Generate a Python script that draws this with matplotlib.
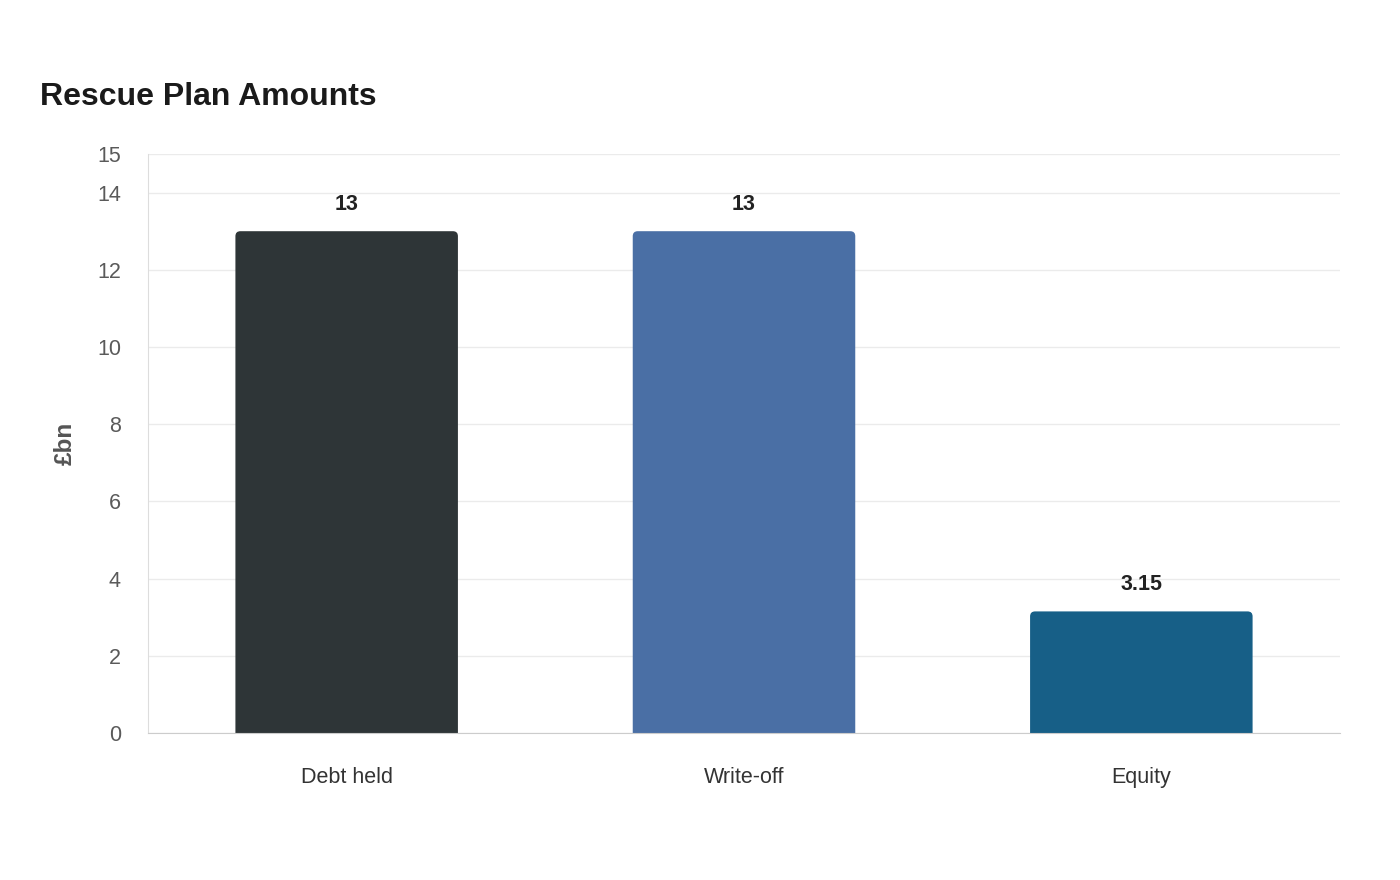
import matplotlib.pyplot as plt
from matplotlib.patches import PathPatch
from matplotlib.path import Path

# Data
categories = ['Debt held', 'Write-off', 'Equity']
amounts = [13, 13, 3.15]
labels = ['13', '13', '3.15']
colors = ['#2e3537', '#4a6fa5', '#175f87']

plt.rcParams['font.family'] = ['Liberation Sans', 'DejaVu Sans']

fig = plt.figure(figsize=(14, 8.8), dpi=100)
ax = fig.add_axes([148 / 1400, 147 / 880, 1192 / 1400, 579 / 880])

x = list(range(len(categories)))
bw = 0.56
bars = ax.bar(x, amounts, width=bw, color=colors, zorder=2)

# swap bars for versions with rounded top corners
xscale = 1192 / 3
yscale = 579 / 15
rx = 5 / xscale
ry = 5 / yscale
for b, c in zip(bars, colors):
    b.set_visible(False)
    x0, w, h = b.get_x(), b.get_width(), b.get_height()
    x1 = x0 + w
    verts = [(x0, 0), (x0, h - ry), (x0, h), (x0 + rx, h),
             (x1 - rx, h), (x1, h), (x1, h - ry), (x1, 0), (x0, 0)]
    codes = [Path.MOVETO, Path.LINETO, Path.CURVE3, Path.CURVE3,
             Path.LINETO, Path.CURVE3, Path.CURVE3, Path.LINETO, Path.CLOSEPOLY]
    ax.add_patch(PathPatch(Path(verts, codes), fc=c, ec='none', zorder=2))

for xi, v, t in zip(x, amounts, labels):
    ax.text(xi, v + 0.42, t, ha='center', va='bottom', fontsize=15.5,
            fontweight='bold', color='#222222')

ax.set_xlim(-0.5, 2.5)
ax.set_ylim(0, 15)
ax.set_yticks([0, 2, 4, 6, 8, 10, 12, 14, 15])
ax.set_xticks(x)
ax.set_xticklabels(categories)
ax.tick_params(axis='y', length=0, pad=19.5, labelsize=15.5, labelcolor='#5a5a5a')
ax.tick_params(axis='x', length=0, pad=24.5, labelsize=15.5, labelcolor='#333333')

ax.grid(axis='y', color='#ebebeb', linewidth=1, zorder=0)
ax.set_axisbelow(True)
for s in ['top', 'right']:
    ax.spines[s].set_visible(False)
ax.spines['left'].set_color('#dddddd')
ax.spines['bottom'].set_color('#cccccc')

ax.set_ylabel('£bn', fontsize=17.5, fontweight='bold', color='#555555')
ax.yaxis.set_label_coords(-71 / 1192, 0.5)

fig.text(40 / 1400, 1 - 97 / 880, 'Rescue Plan Amounts', fontsize=23,
         fontweight='bold', color='#1a1a1a', va='center', ha='left')

fig.savefig('out.png', dpi=100, facecolor='white')
